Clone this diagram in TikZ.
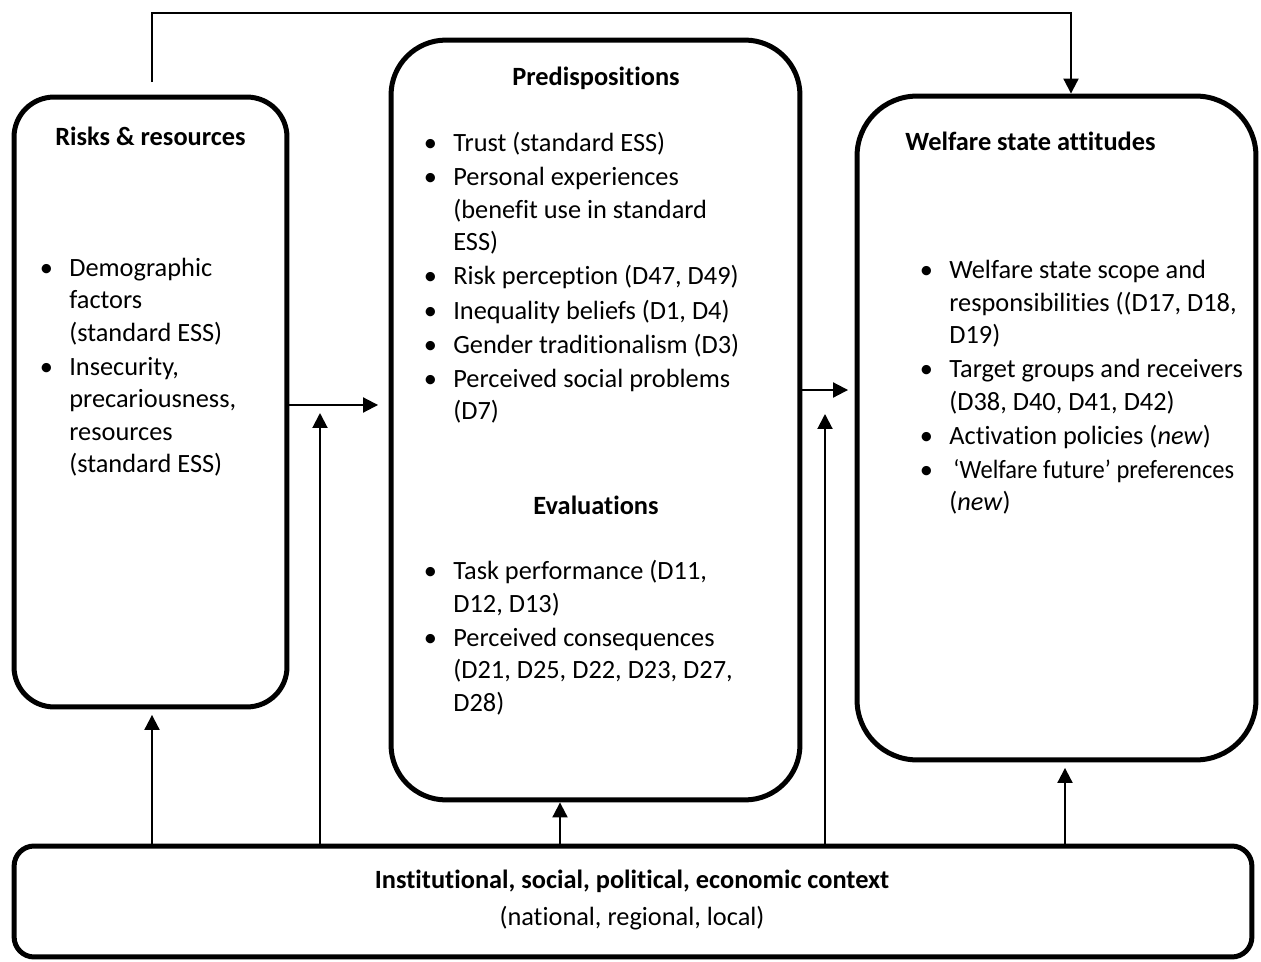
\documentclass[tikz,border=0pt]{standalone}
\usepackage{graphicx}
\usepackage{fontspec}
\setmainfont{Carlito}[Ligatures=NoCommon]
\usetikzlibrary{arrows.meta, positioning, calc}

\newcommand{\bul}{\llap{\makebox[0.92cm]{\textbullet}}}

\begin{document}
\begin{tikzpicture}[
    x=0.02cm, y=-0.02cm,
    box/.style={rectangle, draw=black, line width=0.1cm, rounded corners=#1, inner sep=0pt, outer sep=0pt},
    heading/.style={anchor=base, inner sep=0pt, font=\fontsize{15}{18.4}\selectfont\bfseries},
    items/.style={anchor=base west, align=left, inner sep=0pt, font=\fontsize{15}{18.4}\selectfont},
    arr/.style={-{Triangle[length=0.3cm, width=0.3cm]}, line width=0.04cm, draw=black},
]
\useasboundingbox (0,0) rectangle (1261,962);

% boxes
\node[box=0.8cm, minimum width=5.46cm, minimum height=12.2cm] (risks) at (150.5,402) {};
\node[box=1.1cm, minimum width=8.18cm, minimum height=15.2cm] (pred) at (595.5,420) {};
\node[box=1.2cm, minimum width=7.98cm, minimum height=13.28cm] (attitudes) at (1056.5,428) {};
\node[box=0.4cm, minimum width=24.76cm, minimum height=2.22cm] (context) at (633,901.5) {};

% texts (list nodes are placed by the baseline of their last line)
\node[heading] (risks-title) at (150.5,146) {Risks \& resources};
\node[items] (risks-list) at (69,472.5) {\bul Demographic\\factors\\(standard ESS)\\[0.04cm]\bul Insecurity,\\precariousness,\\resources\\(standard ESS)};

\node[heading] (pred-title) at (596,86) {Predispositions};
\node[items] (pred-list) at (453,420) {\bul Trust (standard ESS)\\[0.04cm]\bul Personal experiences\\(benefit use in standard\\ESS)\\[0.04cm]\bul Risk perception (D47, D49)\\[0.04cm]\bul Inequality beliefs (D1, D4)\\[0.04cm]\bul Gender traditionalism (D3)\\[0.04cm]\bul Perceived social problems\\(D7)};
\node[heading] (eval-title) at (596,515) {Evaluations};
\node[items] (eval-list) at (453,711) {\bul Task performance (D11,\\D12, D13)\\[0.04cm]\bul Perceived consequences\\(D21, D25, D22, D23, D27,\\D28)};

\node[heading, anchor=base west] (att-title) at (905,151) {Welfare state attitudes};
\node[items] (att-list) at (949,511) {\bul Welfare state scope and\\responsibilities ((D17, D18,\\D19)\\[0.04cm]\bul Target groups and receivers\\(D38, D40, D41, D42)\\[0.04cm]\bul Activation policies (\textit{new})\\[0.04cm]\bul\hspace{0.08cm}\scalebox{0.93}[1]{‘Welfare future’ preferences}\\(\textit{new})};

\node[heading] (ctx-title) at (632,888) {Institutional, social, political, economic context};
\node[items, anchor=base] (ctx-sub) at (632,925) {(national, regional, local)};

% connectors
\coordinate (rtop) at ([xshift=0.03cm, yshift=0.3cm]risks.north);
\coordinate (atop) at ([xshift=0.29cm]attitudes.north);
\draw[arr, shorten >=0.05cm] (rtop) -- ++(0,-69) -| (atop);

\coordinate (r2p) at ([yshift=-0.06cm]risks.east);
\draw[arr, shorten >=0.26cm] (r2p) -- (r2p -| pred.west);
\coordinate (p2a) at ([yshift=0.6cm]pred.east);
\draw[arr, shorten >=0.18cm] (p2a) -- (p2a -| attitudes.west);

\coordinate (rbot) at ([xshift=0.03cm]risks.south);
\draw[arr, shorten >=0.16cm] (rbot |- context.north) -- (rbot);
\coordinate (ctxleft) at (320,413);
\draw[arr] (ctxleft |- context.north) -- (ctxleft);
\coordinate (pbot) at ([xshift=-0.71cm]pred.south);
\draw[arr, shorten >=0.05cm] (pbot |- context.north) -- (pbot);
\coordinate (ctxright) at (825,414);
\draw[arr] (ctxright |- context.north) -- (ctxright);
\coordinate (abot) at ([xshift=0.17cm]attitudes.south);
\draw[arr, shorten >=0.16cm] (abot |- context.north) -- (abot);
\end{tikzpicture}
\end{document}
